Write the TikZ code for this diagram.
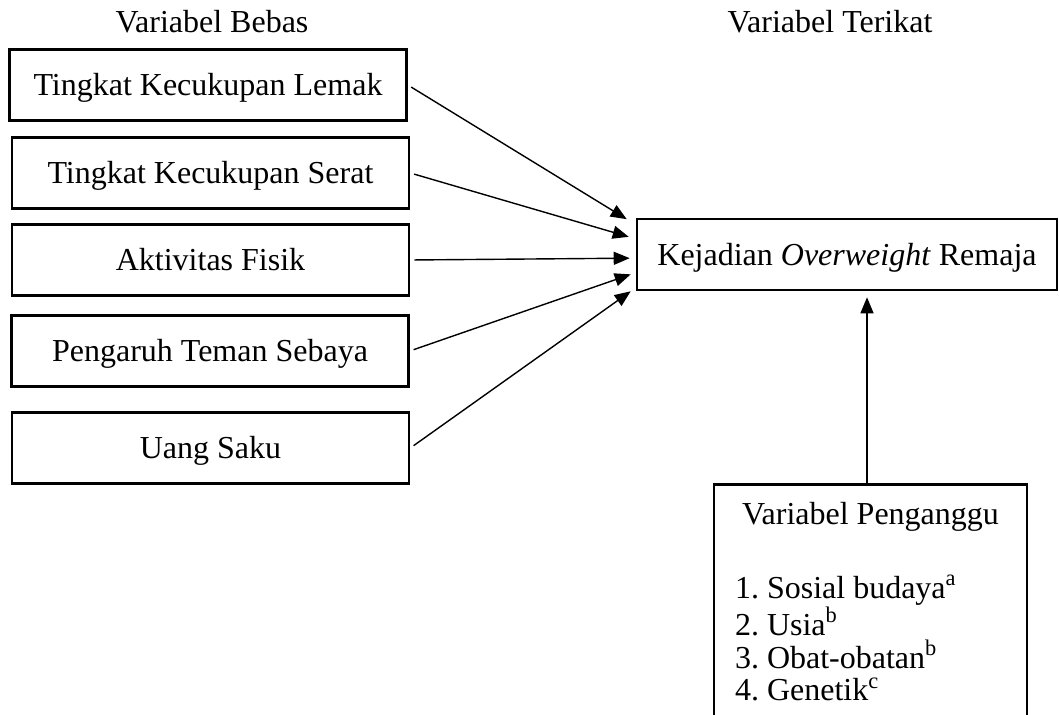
\documentclass[tikz,border=0pt]{standalone}
\usepackage{fontspec}
\setmainfont{Liberation Serif}
\usepackage{tikz}
\usetikzlibrary{arrows.meta, calc}
\tikzset{> = { Triangle[length = 8pt, width = 6.5pt] }}
\tikzstyle{every path} = [ line width = 0.7pt ]
\frenchspacing

\begin{document}
\begin{tikzpicture}[x = 0.5pt, y = -0.5pt,
		font = \fontsize{16}{16.3}\selectfont,
		varbox/.style = { draw, line width = 1.3pt, minimum width = 198.5pt, minimum height = 35.5pt,
			inner sep = 0pt, text height = 10.6pt, text depth = 0pt }]
	\useasboundingbox (0, 0) rectangle (1059, 715);

	% Headings.
	\node [anchor = base] (hfree) at (212, 33) {Variabel Bebas};
	\node [anchor = base] (hdep) at (830, 33) {Variabel Terikat};

	% Independent variables.
	\node [varbox] (fat) at (208, 85) {Tingkat Kecukupan Lemak};
	\node [varbox] (fibre) at (210.5, 173) {Tingkat Kecukupan Serat};
	\node [varbox] (act) at (210.5, 260) {Aktivitas Fisik};
	\node [varbox] (peer) at (210, 351) {Pengaruh Teman Sebaya};
	\node [varbox] (money) at (210.5, 448) {Uang Saku};

	% Dependent variable.
	\node [varbox, minimum width = 210pt] (ow) at (847, 254.5) {Kejadian \textit{Overweight} Remaja};

	% Confounders, the box runs past the lower edge.
	\node [draw, line width = 1.3pt, anchor = north, text width = 135.5pt, align = left,
		inner xsep = 10.5pt, inner ysep = 9pt] (conf) at (870.5, 483) {%
		\spaceskip = 4pt\relax
		{\centering Variabel Penganggu\par}
		\vspace{20.7pt}
		1. Sosial budaya\textsuperscript{a}\\
		2. Usia\textsuperscript{b}\\
		3. Obat-obatan\textsuperscript{b}\\
		4. Genetik\textsuperscript{c}\rule[-20pt]{0pt}{1pt}};

	% Arrow ends.
	\coordinate (in1) at ($(ow.north west)!0.02!(ow.south west) + (-9, 0)$);
	\coordinate (in2) at ($(ow.north west)!0.26!(ow.south west) + (-7, 0)$);
	\coordinate (in3) at ($(ow.north west)!0.55!(ow.south west) + (-6, 0)$);
	\coordinate (in4) at ($(ow.north west)!0.77!(ow.south west) + (-5, 0)$);
	\coordinate (in5) at ($(ow.north west)!1.00!(ow.south west) + (-5, 0)$);
	\coordinate (up) at ($(conf.north) + (-3.5, 0)$);

	\draw [->, shorten <= 2pt] (fat.east) to (in1);
	\draw [->, shorten <= 2pt] (fibre.east) to (in2);
	\draw [->, shorten <= 2pt] (act.east) to (in3);
	\draw [->, shorten <= 2pt] (peer.east) to (in4);
	\draw [->, shorten <= 2pt] (money.east) to (in5);

	\draw [->, shorten >= 3pt] (up) to (up |- ow.south);
\end{tikzpicture}
\end{document}
